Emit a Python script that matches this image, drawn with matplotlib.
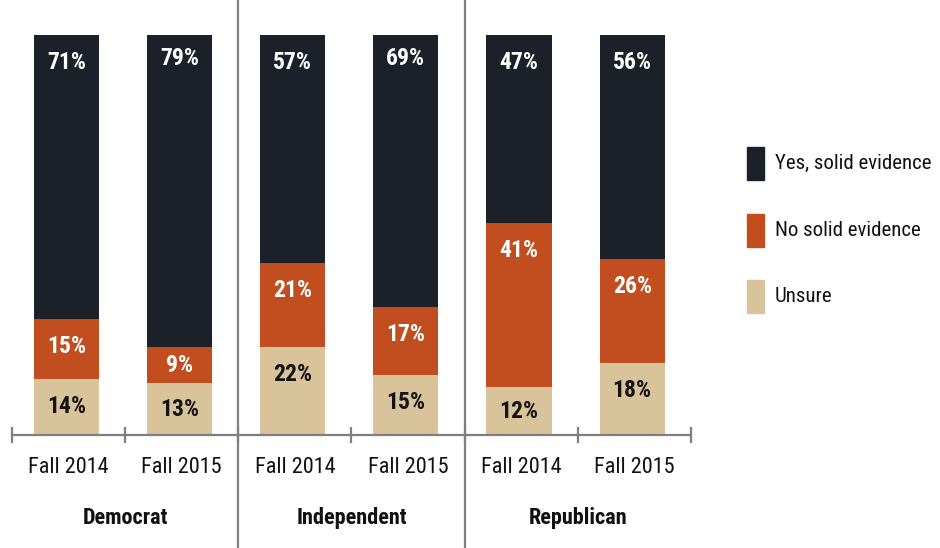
import matplotlib
matplotlib.use("Agg")
import matplotlib.pyplot as plt
from matplotlib.patches import Rectangle
from matplotlib import font_manager

names = {f.name for f in font_manager.fontManager.ttflist}
cands = ['Roboto Condensed', 'Archivo Narrow', 'IBM Plex Sans Condensed', 'Liberation Sans Narrow', 'Roboto']
chosen = next(c for c in cands if c in names)
plt.rcParams['font.family'] = [chosen, 'DejaVu Sans']

groups = ["Democrat", "Independent", "Republican"]
periods = ["Fall 2014", "Fall 2015", "Fall 2014", "Fall 2015", "Fall 2014", "Fall 2015"]
series_names = ["Yes, solid evidence", "No solid evidence", "Unsure"]
yes = [71, 79, 57, 69, 47, 56]
no = [15, 9, 21, 17, 41, 26]
unsure = [14, 13, 22, 15, 12, 18]
colors = ["#1c2029", "#c24d1e", "#d9c39a"]
label_colors = ["white", "white", "#141414"]

W, H = 940, 548
fig = plt.figure(figsize=(W / 100, H / 100), dpi=100)
ax_left, ax_right, ax_bottom_px, ax_top_px = 12, 691, 435, 35
ax = fig.add_axes([ax_left / W, 1 - ax_bottom_px / H, (ax_right - ax_left) / W,
                   (ax_bottom_px - ax_top_px) / H])

x = list(range(len(periods)))
xb = [v - 0.02 for v in x]
bw = 0.575
ax.bar(xb, unsure, bw, color=colors[2], zorder=2)
ax.bar(xb, no, bw, bottom=unsure, color=colors[1], zorder=2)
bottom2 = [u + n for u, n in zip(unsure, no)]
ax.bar(xb, yes, bw, bottom=bottom2, color=colors[0], zorder=2)

def lab(xi, top, h, v, c):
    y = top - min(6.9, h / 2)
    ax.text(xi, y, f"{v}%", ha='center', va='center', color=c,
            fontsize=17, fontweight='bold', zorder=3)

for i in x:
    lab(xb[i], unsure[i], unsure[i], unsure[i], label_colors[2])
    lab(xb[i], bottom2[i], no[i], no[i], label_colors[1])
    lab(xb[i], bottom2[i] + yes[i], yes[i], yes[i], label_colors[0])

ax.set_xlim(-0.5, 5.5)
ax.set_ylim(0, 100)
for s in ['top', 'right', 'left']:
    ax.spines[s].set_visible(False)
ax.spines['bottom'].set_color('#7f7f7f')
ax.spines['bottom'].set_linewidth(1.6)
ax.set_yticks([])
ax.set_xticks([-0.5, 0.5, 1.5, 2.5, 3.5, 4.5, 5.5])
ax.set_xticklabels([])
ax.tick_params(axis='x', which='major', direction='inout', length=11.5, width=1.6, color='#7f7f7f')
ax.set_xticks(x, minor=True)
ax.set_xticklabels(periods, minor=True)
ax.tick_params(axis='x', which='minor', length=0, pad=16, labelsize=16, labelcolor='#111111')

for d in [1.5, 3.5]:
    ax.axvline(d, ymin=-0.2825, ymax=1.0875, color='#7f7f7f', lw=1.6, clip_on=False, zorder=4)

for gi, g in enumerate(groups):
    ax.text(gi * 2 + 0.5, -0.2075, g, transform=ax.get_xaxis_transform(), ha='center',
            va='center', fontsize=16, fontweight='bold', color='#111111')

leg_y = [163, 230, 296]
for c, name, yc in zip(colors, series_names, leg_y):
    fig.add_artist(Rectangle((747 / W, 1 - (yc + 16.5) / H), 17 / W, 33 / H,
                             transform=fig.transFigure, color=c))
    fig.text(775 / W, 1 - yc / H, name, ha='left', va='center', fontsize=15, color='#111111')

fig.savefig("out.png", dpi=100)
